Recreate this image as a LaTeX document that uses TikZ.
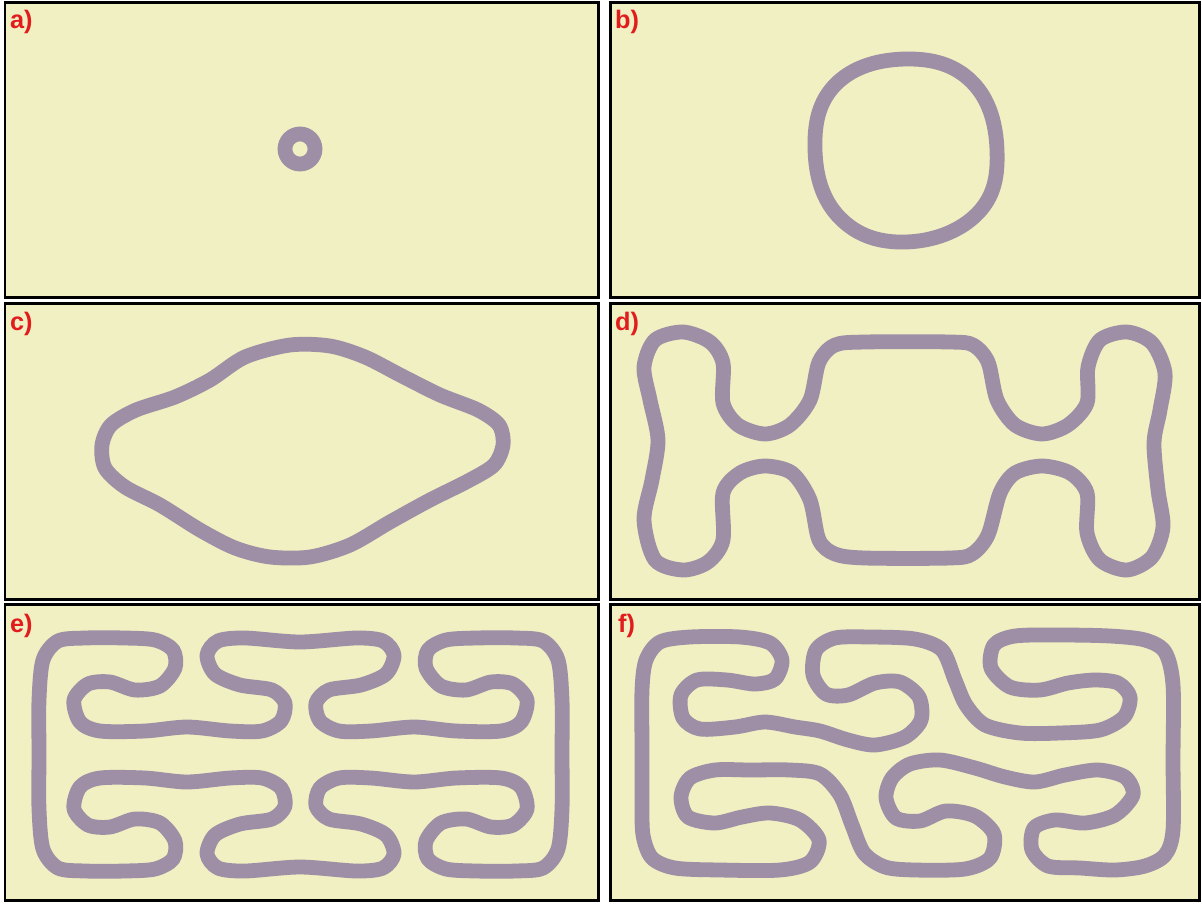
\documentclass[tikz,border=0pt]{standalone}
\usepackage{fontspec}
\setmainfont{Liberation Sans}
\usepackage{tikz}
\definecolor{bgyellow}{RGB}{240,240,194}
\definecolor{trackgray}{RGB}{158,143,166}
\definecolor{tagred}{RGB}{226,28,28}

\begin{document}
\begin{tikzpicture}[x=0.05cm, y=-0.05cm,
  panel/.style={draw=black, line width=0.15cm, fill=bgyellow},
  track/.style={draw=trackgray, line width=0.74cm, line join=round},
  tag/.style={font=\fontsize{36}{38}\selectfont\bfseries, text=tagred, anchor=base west, inner sep=0pt}]
\useasboundingbox (0,0) rectangle (1202,903);
% the six panels
\draw[panel] (5,3) rectangle (598,297);
\draw[panel] (610,3) rectangle (1199,297);
\draw[panel] (5,303) rectangle (598,599);
\draw[panel] (610,303) rectangle (1199,599);
\draw[panel] (5,604) rectangle (598,900);
\draw[panel] (610,604) rectangle (1199,900);
% panel tags
\node[tag] (ta) at (10,29) {a)};
\node[tag] (tb) at (615,29) {b)};
\node[tag] (tc) at (10,330) {c)};
\node[tag] (td) at (615,330) {d)};
\node[tag] (te) at (10,632) {e)};
\node[tag] (tf) at (618,632) {f)};
% a) small ring
\draw[track] (300,149) circle[radius=15];
% b) rounded loop
\draw[track] plot[smooth cycle, tension=0.7] coordinates {
  (906,59) (972,82) (997,150) (977,214) (906,242) (840,218) (815,150) (836,84)};
% c) lens
\draw[track] plot[smooth cycle] coordinates {
  (290,345) (330,346) (365,357) (402,376) (440,395) (478,410) (499,425)
  (503,445) (494,465) (468,481) (430,500) (390,522) (350,545) (310,557)
  (270,557) (235,548) (200,530) (160,505) (125,487) (105,468) (102,445)
  (111,425) (136,410) (175,397) (210,380) (245,357)};
% d) bone with four bumps
\draw[track] plot[smooth cycle] coordinates {
  (683,332) (710,342) (723,363) (723,403) (738,425) (765,434) (790,425)
  (810,400) (819,362) (835,345) (865,342) (950,342) (973,345) (988,362)
  (997,400) (1015,425) (1042,434) (1068,425) (1087,403) (1088,367)
  (1100,340) (1127,332) (1152,343) (1165,373) (1160,410) (1154,443)
  (1158,490) (1163,527) (1152,557) (1127,570) (1100,560) (1087,533)
  (1087,493) (1070,473) (1042,466) (1015,473) (1000,493) (988,535)
  (972,554) (950,558) (865,558) (835,554) (819,540) (810,500) (792,473)
  (765,466) (740,473) (723,493) (723,540) (708,562) (683,570) (655,560)
  (644,520) (652,480) (658,440) (650,400) (644,367) (655,340)};
% e) symmetric meander
\draw[track] plot[smooth cycle] coordinates {
  (39,754) (39,700) (43,660) (58,641) (85,638) (125,638) (155,640)
  (173,650) (175,668) (160,686) (135,690) (110,682) (88,684) (74,700)
  (80,722) (100,731) (145,731) (187,727) (230,731) (262,731) (281,721)
  (285,703) (272,690) (240,685) (215,674) (207,655) (218,641) (245,638)
  (300,642) (356,638) (383,641) (394,655) (386,674) (361,685) (329,690)
  (316,703) (320,721) (339,731) (371,731) (414,727) (456,731) (501,731)
  (521,722) (527,700) (513,684) (491,682) (466,690) (441,686) (426,668)
  (428,650) (446,640) (476,638) (516,638) (543,641) (558,660) (562,700)
  (562,754) (562,809) (558,849) (543,868) (516,871) (476,871) (446,869)
  (428,859) (426,841) (441,823) (466,819) (491,827) (513,825) (527,809)
  (521,787) (501,778) (456,778) (414,782) (371,778) (339,778) (320,788)
  (316,806) (329,819) (361,824) (386,835) (394,854) (383,868) (356,871)
  (300,867) (245,871) (218,868) (207,854) (215,835) (240,824) (272,819)
  (285,806) (281,788) (262,778) (230,778) (187,782) (145,778) (100,778)
  (80,787) (74,809) (88,825) (110,827) (135,819) (160,823) (175,841)
  (173,859) (155,869) (125,871) (85,871) (58,868) (43,849) (39,809)};
% f) irregular meander
\draw[track] plot[smooth cycle] coordinates {
  (642,750) (642,690) (646,660) (660,642) (690,637) (740,637) (770,643)
  (782,660) (775,679) (755,684) (727,680) (697,680) (681,695) (683,718)
  (700,729) (735,727) (765,722) (795,727) (820,731) (848,740) (875,745)
  (905,737) (921,720) (919,697) (900,682) (875,683) (848,695) (826,694)
  (813,675) (816,650) (835,638) (870,637) (915,639) (942,650) (955,680)
  (966,705) (985,725) (1020,733) (1060,733) (1100,730) (1124,717)
  (1130,697) (1118,683) (1095,680) (1068,683) (1040,690) (1010,687)
  (991,668) (994,645) (1015,636) (1060,635) (1110,636) (1145,640)
  (1165,652) (1173,685) (1173,760) (1173,830) (1165,855) (1145,866)
  (1115,870) (1080,868) (1048,866) (1032,850) (1034,828) (1055,820)
  (1085,823) (1115,815) (1133,795) (1125,777) (1098,770) (1065,775)
  (1035,782) (1005,777) (975,768) (940,760) (910,764) (892,778)
  (886,798) (896,818) (920,821) (946,811) (975,816) (994,834) (990,858)
  (965,869) (915,870) (885,867) (864,853) (852,825) (840,795) (820,774)
  (790,770) (750,770) (715,770) (690,778) (681,797) (688,817) (715,823)
  (742,817) (770,813) (800,820) (819,840) (810,862) (780,870) (720,870)
  (675,868) (652,858) (643,835) (642,800)};
\end{tikzpicture}
\end{document}
